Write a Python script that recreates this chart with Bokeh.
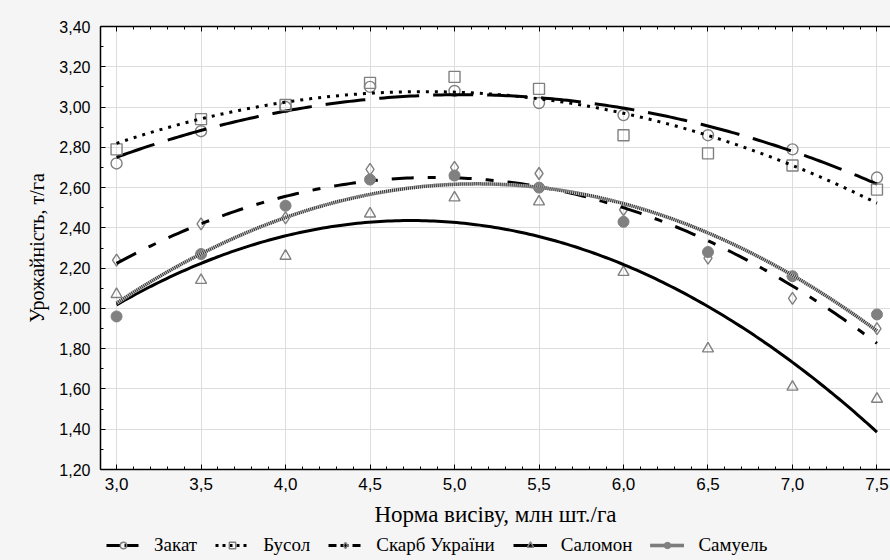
import numpy as np
from bokeh.plotting import figure
from bokeh.layouts import column
from bokeh.models import (Range1d, FixedTicker, LinearAxis, CustomJSTickFormatter,
                          Legend, LegendItem)
from bokeh.embed import file_html
from bokeh.resources import INLINE

# ---- data ----
norm = [3.0, 3.5, 4.0, 4.5, 5.0, 5.5, 6.0, 6.5, 7.0, 7.5]
zakat = [2.72, 2.88, 3.00, 3.10, 3.08, 3.02, 2.96, 2.86, 2.79, 2.65]
busol = [2.79, 2.94, 3.01, 3.12, 3.15, 3.09, 2.86, 2.77, 2.71, 2.59]
skarb = [2.24, 2.42, 2.45, 2.69, 2.70, 2.67, 2.49, 2.25, 2.05, 1.90]
salomon = [2.07, 2.14, 2.26, 2.47, 2.55, 2.53, 2.18, 1.80, 1.61, 1.55]
samuel = [1.96, 2.27, 2.51, 2.64, 2.66, 2.60, 2.43, 2.28, 2.16, 1.97]
names = ["Закат", "Бусол", "Скарб України", "Саломон", "Самуель"]
x_ticks = [3.0, 3.5, 4.0, 4.5, 5.0, 5.5, 6.0, 6.5, 7.0, 7.5]
y_ticks = [1.2, 1.4, 1.6, 1.8, 2.0, 2.2, 2.4, 2.6, 2.8, 3.0, 3.2, 3.4]
x_title = "Норма висіву, млн шт./га"
y_title = "Урожайність, т/га"

BG = "#f5f5f5"
GRAY = "#808080"
SERIF = "Liberation Serif"
SANS = "Liberation Sans"

p = figure(width=890, height=535, output_backend="svg", toolbar_location=None,
           x_range=Range1d(2.905, 7.580), y_range=Range1d(1.2, 3.4),
           min_border_left=100, min_border_top=26, min_border_right=0, min_border_bottom=66,
           border_fill_color=BG, background_fill_color="white", outline_line_color=None)

x_minor = [round(v, 1) for v in np.arange(2.9, 7.61, 0.1)]
y_minor = [round(v, 1) for v in np.arange(1.2, 3.41, 0.1)]
xt = FixedTicker(ticks=x_ticks, minor_ticks=x_minor)
yt = FixedTicker(ticks=y_ticks, minor_ticks=y_minor)

for ax, tk in ((p.xaxis[0], xt), (p.yaxis[0], yt)):
    ax.ticker = tk
    ax.axis_line_color = "black"
    ax.axis_line_width = 1.5
    ax.major_tick_in = 5
    ax.major_tick_out = 0
    ax.minor_tick_in = 3
    ax.minor_tick_out = 0
    ax.major_tick_line_color = "black"
    ax.minor_tick_line_color = "black"
    ax.major_label_text_font = SANS
    ax.major_label_text_color = "black"
    ax.axis_label_text_font = SERIF
    ax.axis_label_text_font_style = "normal"
    ax.axis_label_text_color = "black"

p.xaxis[0].major_label_text_font_size = "17px"
p.yaxis[0].major_label_text_font_size = "16px"
p.xaxis[0].axis_label_text_font_size = "23px"
p.yaxis[0].axis_label_text_font_size = "20px"
p.xaxis[0].formatter = CustomJSTickFormatter(code="return tick.toFixed(1).replace('.', ',');")
p.yaxis[0].formatter = CustomJSTickFormatter(code="return tick.toFixed(2).replace('.', ',');")
p.xaxis[0].axis_label = x_title
p.yaxis[0].axis_label = y_title
p.xaxis[0].major_label_standoff = 8
p.yaxis[0].major_label_standoff = 10
p.xaxis[0].axis_label_standoff = 9
p.yaxis[0].axis_label_standoff = 8

top = LinearAxis(ticker=FixedTicker(ticks=x_ticks, minor_ticks=x_minor),
                 formatter=CustomJSTickFormatter(code="return '';"),
                 major_label_text_font_size="1px", major_label_standoff=0,
                 axis_line_color="black", axis_line_width=1.5,
                 major_tick_in=5, major_tick_out=0, minor_tick_in=3, minor_tick_out=0)
p.add_layout(top, "above")

p.xgrid.ticker = xt
p.ygrid.ticker = yt
p.xgrid.grid_line_color = "#dddddd"
p.ygrid.grid_line_color = "#dddddd"
p.xgrid.minor_grid_line_color = None
p.ygrid.minor_grid_line_color = None

# legend strip (separate small figure below the chart)
q = figure(width=890, height=25, output_backend="svg", toolbar_location=None,
           x_range=Range1d(0, 1), y_range=Range1d(0, 1), x_axis_type=None, y_axis_type=None,
           min_border=0, border_fill_color=BG, background_fill_color=BG, outline_line_color=None)
q.xgrid.visible = False
q.ygrid.visible = False

xs = np.linspace(3.0, 7.5, 200)
series = [zakat, busol, skarb, salomon, samuel]
markers = ["circle", "square", "diamond", "triangle", "circle"]
line_styles = [
    [dict(line_color="black", line_width=3, line_dash="40 14")],
    [dict(line_color="black", line_width=3, line_dash="3 6")],
    [dict(line_color="black", line_width=3, line_dash="22 14 8 14")],
    [dict(line_color="black", line_width=3)],
    [dict(line_color="#c8c8c8", line_width=3.5),
     dict(line_color="#303030", line_width=3.5, line_dash="1 1")],
]
legend_dash = ["14 4", "3 4", "8 4", None, None]
items = []
for i, (ys, mk, nm) in enumerate(zip(series, markers, names)):
    fit = np.polyval(np.polyfit(norm, ys, 2), xs)
    if i == 4:
        mstyle = dict(marker=mk, size=11, fill_color=GRAY, line_color=GRAY)
    else:
        mstyle = dict(marker=mk, size=11 if mk != "diamond" else 12,
                      fill_color=None, line_color=GRAY, line_width=1.4)
    p.scatter(norm, ys, **mstyle)
    for st in line_styles[i]:
        p.line(xs, fit, **st)
    # legend sample renderers (NaN data, nothing drawn in the strip itself)
    rends = []
    for st in line_styles[i]:
        st2 = dict(st)
        if legend_dash[i] is not None:
            st2["line_dash"] = legend_dash[i]
        rends.append(q.line([np.nan], [np.nan], **st2))
    lm = dict(mstyle)
    lm["size"] = 9
    rends.append(q.scatter([np.nan], [np.nan], **lm))
    items.append(LegendItem(label=nm, renderers=rends))

legend = Legend(items=items, orientation="horizontal", location=(6, 4),
                label_text_font=SERIF, label_text_font_size="19px", label_text_color="black",
                glyph_width=34, glyph_height=16, label_standoff=14, spacing=18,
                padding=0, margin=0, border_line_color=None, background_fill_alpha=0)
q.add_layout(legend, "center")

layout = column(p, q, spacing=0)
html = file_html(layout, INLINE)
html = html.replace("</head>", "<style>html, body { background: %s; }</style></head>" % BG, 1)
open("out.html", "w").write(html)
